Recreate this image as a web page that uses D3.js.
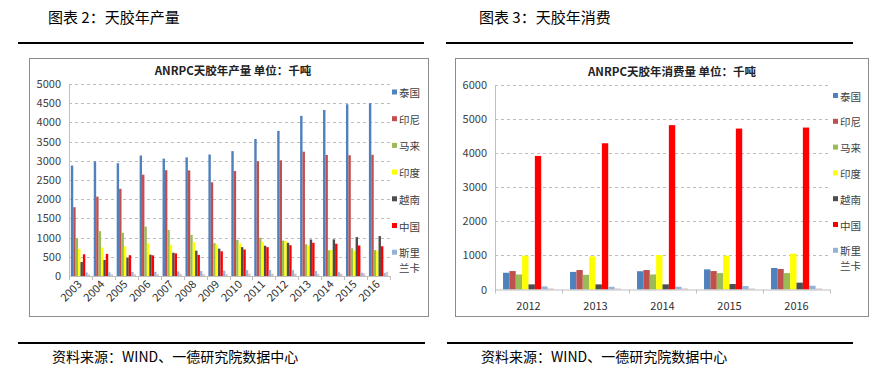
<!DOCTYPE html>
<html><head><meta charset="utf-8">
<script src="https://cdn.jsdelivr.net/npm/d3@7"></script>
<style>
html,body{margin:0;padding:0;background:#fff;}
svg{display:block;}
text{font-family:"Noto Sans CJK SC","Liberation Sans",sans-serif;}
</style></head>
<body>
<svg id="c" width="878" height="367"></svg>
<script>
// ---------- data ----------
const seriesNames = ["泰国","印尼","马来","印度","越南","中国","斯里兰卡","其他"];
const seriesColors = ["#4F81BD","#C0504D","#9BBB59","#FFFF00","#4D4D4D","#FF0000","#95B3D7","#D9BFBF"];

const prodYears = ["2003","2004","2005","2006","2007","2008","2009","2010","2011","2012","2013","2014","2015","2016"];
const prodThailand  = [2876,2984,2937,3137,3056,3090,3164,3252,3569,3778,4170,4324,4473,4500];
const prodIndonesia = [1792,2066,2271,2637,2755,2751,2440,2734,2990,3012,3237,3153,3145,3157];
const prodMalaysia  = [986,1169,1126,1284,1200,1072,857,939,996,923,826,669,722,674];
const prodIndia     = [707,743,772,853,811,881,820,851,893,913,797,680,650,660];
const prodVietnam   = [364,419,482,555,606,660,712,752,789,864,949,954,1013,1040];
const prodChina     = [565,575,541,538,588,548,643,690,751,802,865,840,794,774];
const prodSriLanka  = [92,95,104,109,118,129,137,153,158,152,130,99,89,79];
const prodOther     = [40,40,45,45,50,50,55,60,60,60,55,60,70,110];
const prodTicks = [0,500,1000,1500,2000,2500,3000,3500,4000,4500,5000];

const consYears = ["2012","2013","2014","2015","2016"];
const consThailand  = [490,515,535,590,630];
const consIndonesia = [540,570,570,540,600];
const consMalaysia  = [440,430,440,480,480];
const consIndia     = [990,970,1010,990,1050];
const consVietnam   = [150,150,150,160,200];
const consChina     = [3910,4280,4810,4710,4740];
const consSriLanka  = [90,80,80,100,110];
const consOther     = [30,30,30,30,30];
const consTicks = [0,1000,2000,3000,4000,5000,6000];

const svg = d3.select("#c");

// ---------- headers ----------
svg.append("text").attr("x",48).attr("y",23).attr("font-size",15).attr("fill","#000").text("图表 2：天胶年产量");
svg.append("text").attr("x",479).attr("y",23).attr("font-size",15).attr("fill","#000").text("图表 3：天胶年消费");
[[18,424,43],[446,853,43],[18,425,343],[447,853,343]].forEach(l=>{
  svg.append("line").attr("x1",l[0]).attr("x2",l[1]).attr("y1",l[2]).attr("y2",l[2]).attr("stroke","#000").attr("stroke-width",2);
});
svg.append("text").attr("x",52).attr("y",362).attr("font-size",14).attr("fill","#000").text("资料来源：WIND、一德研究院数据中心");
svg.append("text").attr("x",481).attr("y",362).attr("font-size",14).attr("fill","#000").text("资料来源：WIND、一德研究院数据中心");

function chart(cfg){
  const g = svg.append("g");
  g.append("rect").attr("x",cfg.frame[0]+0.5).attr("y",cfg.frame[1]+0.5).attr("width",cfg.frame[2]).attr("height",cfg.frame[3])
    .attr("fill","#fff").attr("stroke","#8C8C8C").attr("stroke-width",1);
  g.append("text").attr("x",cfg.titleX).attr("y",cfg.titleY).attr("text-anchor","middle").attr("font-size",11.5)
    .attr("font-weight","bold").attr("fill","#222").text(cfg.title);

  const x = d3.scaleBand().domain(cfg.cats).range([cfg.x0,cfg.x1]).padding(0);
  const y = d3.scaleLinear().domain([0,cfg.ymax]).range([cfg.yb,cfg.yt]);
  const xs = d3.scaleBand().domain(d3.range(cfg.series.length))
      .range([x.bandwidth()*cfg.gp, x.bandwidth()*(1-cfg.gp)]).padding(0);

  // gridlines
  g.selectAll(".grid").data(cfg.ticks.filter(t=>t>0)).join("line")
    .attr("x1",cfg.x0).attr("x2",cfg.x1).attr("y1",d=>Math.round(y(d))+0.5).attr("y2",d=>Math.round(y(d))+0.5)
    .attr("stroke","#BDBDBD").attr("stroke-dasharray","3,3");
  // y axis
  const ya = d3.axisLeft(y).tickValues(cfg.ticks).tickSize(0).tickPadding(8).tickFormat(d3.format("d"));
  const yg = g.append("g").attr("transform",`translate(${cfg.x0},0)`).call(ya);
  yg.select(".domain").attr("stroke","#BFBFBF");
  yg.selectAll("text").attr("font-size",11).attr("fill","#404040").attr("font-family","Liberation Sans, Arial, sans-serif");

  // bars
  cfg.series.forEach((vals,si)=>{
    g.selectAll(null).data(vals).join("rect")
      .attr("x",(d,i)=>x(cfg.cats[i])+xs(si))
      .attr("width",xs.bandwidth())
      .attr("y",d=>y(d)).attr("height",d=>y(0)-y(d))
      .attr("fill",seriesColors[si]);
  });

  // x axis
  const xa = d3.axisBottom(x).tickSize(0).tickFormat("");
  const xg = g.append("g").attr("transform",`translate(0,${cfg.yb})`).call(xa);
  xg.select(".domain").attr("stroke","#BFBFBF");
  const bounds = cfg.cats.map(c=>x(c)).concat([cfg.x1]);
  g.selectAll(null).data(bounds).join("line")
    .attr("x1",d=>Math.round(d)+0.5).attr("x2",d=>Math.round(d)+0.5)
    .attr("y1",cfg.yb).attr("y2",cfg.yb+4).attr("stroke","#BFBFBF");

  if(cfg.rotate){
    g.selectAll(null).data(cfg.cats).join("text")
      .attr("transform",d=>`translate(${x(d)+x.bandwidth()/2+2},${cfg.yb+9}) rotate(-45)`)
      .attr("text-anchor","end").attr("font-size",11).attr("fill","#303030")
      .attr("font-family","Liberation Sans, Arial, sans-serif").text(d=>d);
  } else {
    g.selectAll(null).data(cfg.cats).join("text")
      .attr("x",d=>x(d)+x.bandwidth()/2).attr("y",cfg.yb+20)
      .attr("text-anchor","middle").attr("font-size",11).attr("fill","#303030")
      .attr("font-family","Liberation Sans, Arial, sans-serif").text(d=>d);
  }

  // legend (first 7 series)
  const lg = g.append("g");
  seriesNames.slice(0,7).forEach((n,i)=>{
    const yy = cfg.legY + i*cfg.legDy;
    lg.append("rect").attr("x",cfg.legX).attr("y",yy-3.5).attr("width",5).attr("height",5).attr("fill",seriesColors[i]);
    if(n.length>2){
      lg.append("text").attr("x",cfg.legX+7).attr("y",yy+4).attr("font-size",10.5).attr("fill","#404040").text(n.slice(0,2));
      lg.append("text").attr("x",cfg.legX+7).attr("y",yy+19).attr("font-size",10.5).attr("fill","#404040").text(n.slice(2));
    } else {
      lg.append("text").attr("x",cfg.legX+7).attr("y",yy+4).attr("font-size",10.5).attr("fill","#404040").text(n);
    }
  });
}

chart({
  frame:[29,58,399,258], title:"ANRPC天胶年产量  单位：千吨", titleX:233, titleY:75,
  cats:prodYears, series:[prodThailand,prodIndonesia,prodMalaysia,prodIndia,prodVietnam,prodChina,prodSriLanka,prodOther],
  x0:69, x1:390, yb:276, yt:84, ymax:5000, ticks:prodTicks, gp:0.08, rotate:true,
  legX:392, legY:93, legDy:26.7
});
chart({
  frame:[455,58,413,258], title:"ANRPC天胶年消费量  单位：千吨", titleX:672, titleY:76,
  cats:consYears, series:[consThailand,consIndonesia,consMalaysia,consIndia,consVietnam,consChina,consSriLanka,consOther],
  x0:495, x1:830, yb:289.5, yt:84.5, ymax:6000, ticks:consTicks, gp:0.12, rotate:false,
  legX:833, legY:96.5, legDy:25.8
});
</script>
</body></html>
